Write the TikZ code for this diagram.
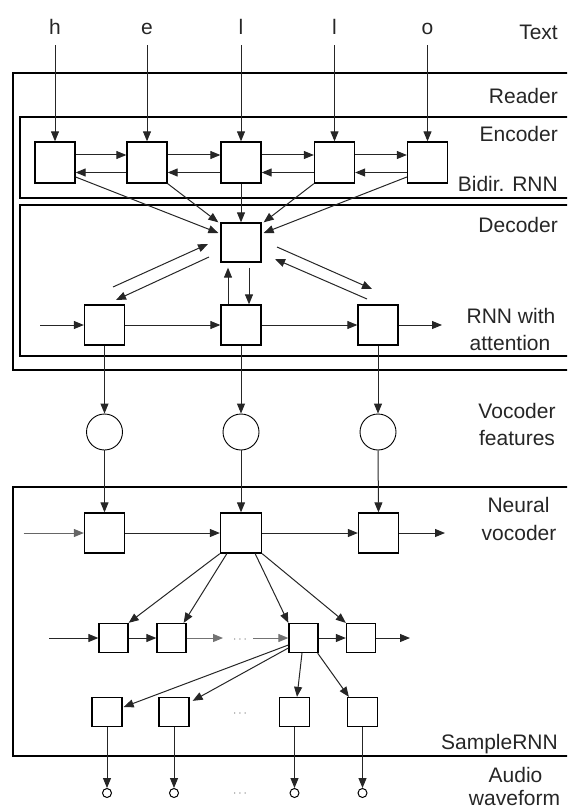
\documentclass[tikz,border=0pt]{standalone}
\usepackage{fontspec}
\setmainfont{Liberation Sans}
\usetikzlibrary{arrows.meta,calc}
\begin{document}
\begin{tikzpicture}[x=1pt,y=-1pt,
  box/.style={draw,line width=1.3pt,minimum width=40pt,minimum height=40pt,inner sep=0pt},
  sbox/.style={draw,line width=1.3pt,minimum width=29pt,minimum height=29pt,inner sep=0pt},
  feat/.style={draw,circle,line width=0.9pt,minimum size=36pt,inner sep=0pt},
  smp/.style={draw,circle,line width=1pt,minimum size=9pt,inner sep=0pt},
  frame/.style={draw,line width=1.3pt},
  arr/.style={-{Triangle[length=10pt,width=8pt]},line width=1pt,draw=black!85},
  garr/.style={arr,draw=black!55},
  lbl/.style={font=\fontsize{21}{27}\selectfont,inner sep=0pt,text=black!85},
  dots/.style={font=\fontsize{12}{14}\selectfont,text=black!55,inner sep=0pt},
  ]
\useasboundingbox (0,0) rectangle (567,810);
\clip (0,0) rectangle (567,810);

% frames
\draw[frame] (13,73) rectangle (620,370);
\draw[frame] (20,117) rectangle (620,198);
\draw[frame] (20,205) rectangle (620,356);
\draw[frame] (13,487) rectangle (620,756);

% labels
\node[lbl,anchor=base east] (lText) at (558,40) {Text};
\node[lbl,anchor=base east] (lReader) at (558,104) {Reader};
\node[lbl,anchor=base east] (lEnc) at (558,142) {Encoder};
\node[lbl,anchor=base east] (lBidir) at (558,192) {Bidir. RNN};
\node[lbl,anchor=base east] (lDec) at (558,233) {Decoder};
\node[lbl,anchor=base] (lRnn1) at (511,323) {RNN with};
\node[lbl,anchor=base] (lRnn2) at (510,350) {attention};
\node[lbl,anchor=base] (lVoc1) at (517,418) {Vocoder};
\node[lbl,anchor=base] (lVoc2) at (517,445) {features};
\node[lbl,anchor=base] (lNeu1) at (518.5,512) {Neural};
\node[lbl,anchor=base] (lNeu2) at (519,540) {vocoder};
\node[lbl,anchor=base east] (lSRNN) at (558,749) {SampleRNN};
\node[lbl,anchor=base] (lAud1) at (515.5,782) {Audio};
\node[lbl,anchor=base] (lAud2) at (514.5,805.5) {waveform};

% text letters
\node[lbl,anchor=base] (ch1) at (55,35) {h};
\node[lbl,anchor=base] (ch2) at (147,35) {e};
\node[lbl,anchor=base] (ch3) at (241,35) {l};
\node[lbl,anchor=base] (ch4) at (334.5,35) {l};
\node[lbl,anchor=base] (ch5) at (427.5,35) {o};

% encoder boxes
\node[box,minimum height=41pt] (e1) at (55,162.5) {};
\node[box,minimum height=41pt] (e2) at (147,162.5) {};
\node[box,minimum height=41pt] (e3) at (241,162.5) {};
\node[box,minimum height=41pt] (e4) at (334.5,162.5) {};
\node[box,minimum height=41pt] (e5) at (427.5,162.5) {};

\foreach \i in {1,...,5} {
  \draw[arr,shorten <=10pt] (ch\i.south) -- (e\i.north);
}
\foreach \i/\j in {1/2,2/3,3/4,4/5} {
  \draw[arr] ([yshift=7.5pt]e\i.east) -- ([yshift=7.5pt]e\j.west);
  \draw[arr] ([yshift=-10pt]e\j.west) -- ([yshift=-10pt]e\i.east);
}

% decoder
\node[box,minimum height=39pt] (D) at (241,242.5) {};
\draw[arr] ([yshift=-14.5pt]e1.east) -- ([xshift=-2pt,yshift=9.5pt]D.west);
\draw[arr] (e2.south east) -- ([xshift=-2pt]D.north west);
\draw[arr] (e3.south) -- (D.north);
\draw[arr] (e4.south west) -- ([xshift=2pt]D.north east);
\draw[arr] ([yshift=-14.5pt]e5.west) -- ([xshift=2pt,yshift=9.5pt]D.east);

\node[box] (ra) at (104.5,325) {};
\node[box] (rb) at (241,325) {};
\node[box] (rc) at (378,325) {};

\coordinate (p1) at (113,287);
\coordinate (p2) at (208,244);
\coordinate (p3) at (209,257);
\coordinate (p4) at (116,300);
\coordinate (q1) at (277,247);
\coordinate (q2) at (372,289);
\coordinate (q3) at (367,299);
\coordinate (q4) at (275,259);
\draw[arr] (p1) -- (p2);
\draw[arr] (p3) -- (p4);
\draw[arr] (q1) -- (q2);
\draw[arr] (q3) -- (q4);
\draw[arr] ([xshift=-13pt]rb.north) -- ([xshift=-13pt,yshift=-5pt]D.south);
\draw[arr] ([xshift=8pt,yshift=-5pt]D.south) -- ([xshift=8pt]rb.north);

\coordinate (rin) at (40,325);
\coordinate (rout) at (442,325);
\draw[arr] (rin) -- (ra.west);
\draw[arr] (ra.east) -- (rb.west);
\draw[arr] (rb.east) -- (rc.west);
\draw[arr] (rc.east) -- (rout);

% vocoder features
\node[feat] (v1) at (104.5,432) {};
\node[feat] (v2) at (241,432) {};
\node[feat] (v3) at (378,432) {};
\draw[arr] (ra.south) -- (v1.north);
\draw[arr] (rb.south) -- (v2.north);
\draw[arr] (rc.south) -- (v3.north);

% neural vocoder
\node[box] (na) at (104.5,533) {};
\node[box,minimum width=41pt] (nb) at (241,533) {};
\node[box] (nc) at (378.5,533) {};
\draw[arr] (v1.south) -- (na.north);
\draw[arr] (v2.south) -- (nb.north);
\draw[arr] (v3.south) -- (nc.north);
\coordinate (nin) at (23.5,533);
\coordinate (nout) at (445,533);
\draw[arr,draw=black!60] (nin) -- (na.west);
\draw[arr] (na.east) -- (nb.west);
\draw[arr] (nb.east) -- (nc.west);
\draw[arr] (nc.east) -- (nout);

% sample rnn tier 1
\node[sbox] (s1) at (113.5,638) {};
\node[sbox] (s2) at (171.5,638) {};
\node[sbox] (s3) at (303.5,638) {};
\node[sbox] (s4) at (361,638) {};
\draw[arr] (nb.south west) -- (s1.north east);
\draw[arr] ([xshift=7pt]nb.south west) -- ([xshift=-3pt]s2.north east);
\draw[arr] ([xshift=-7pt]nb.south east) -- (s3.north west);
\draw[arr] (nb.south east) -- (s4.north west);

\coordinate (sin) at (49,638);
\coordinate (sg1) at (223,638);
\coordinate (sg2) at (253,638);
\coordinate (sout) at (410,638);
\node[dots] (d1) at (240,640) {$\cdots$};
\draw[arr] (sin) -- (s1.west);
\draw[arr] (s1.east) -- (s2.west);
\draw[garr] (s2.east) -- (sg1);
\draw[garr] (sg2) -- (s3.west);
\draw[arr] (s3.east) -- (s4.west);
\draw[arr] (s4.east) -- (sout);

% tier 2
\node[sbox,minimum width=30pt] (u1) at (107,712) {};
\node[sbox,minimum width=30pt] (u2) at (174,712) {};
\node[sbox,minimum width=30pt] (u3) at (294.5,712) {};
\node[sbox,minimum width=30pt] (u4) at (362.5,712) {};
\node[dots] (d2) at (240,714) {$\cdots$};
\draw[arr] ([yshift=-7pt]s3.west) -- ([xshift=1pt,yshift=5pt]u1.east);
\draw[arr] ([yshift=-10pt]s3.west) -- ([xshift=3pt,yshift=-4pt]u2.north east);
\draw[arr] ([xshift=-1.5pt]s3.south) -- ([xshift=2.5pt]u3.north);
\draw[arr] ([xshift=-1pt]s3.south east) -- ([xshift=2pt]u4.north west);

% audio samples
\node[smp] (o1) at (107,793) {};
\node[smp] (o2) at (174,793) {};
\node[smp] (o3) at (294.5,793) {};
\node[smp] (o4) at (362.5,793) {};
\node[dots] (d3) at (240,794) {$\cdots$};
\foreach \i in {1,...,4} {
  \draw[arr] (u\i.south) -- (o\i.north);
}
\end{tikzpicture}
\end{document}
